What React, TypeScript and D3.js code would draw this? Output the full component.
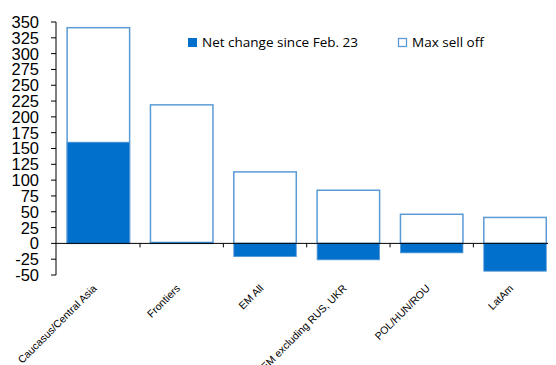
import React from "react";
import * as d3 from "d3";

const categories = ["Caucasus/Central Asia", "Frontiers", "EM All", "EM excluding RUS, UKR", "POL/HUN/ROU", "LatAm"];
const maxSellOff = [341, 219, 113, 84, 46, 41];
const netChange = [160, 2, -21, -26, -15, -44];
const yTicks = [-50, -25, 0, 25, 50, 75, 100, 125, 150, 175, 200, 225, 250, 275, 300, 325, 350];
const legendLabels = ["Net change since Feb. 23", "Max sell off"];

const W = 556, H = 365;
const FILL = "#0070cc";
const OUTLINE = "#5b9bd5";

export default function App() {
  const x = d3.scaleBand<string>().domain(categories).range([56.7, 556.7]).paddingInner(0.25).paddingOuter(0.125);
  const y = d3.scaleLinear().domain([-50, 350]).range([275, 22]);
  const bw = x.bandwidth();
  const boundaries = categories.slice(1).map((c) => (x(c) as number) - (x.step() - bw) / 2);
  return (
    <svg width={W} height={H} style={{ position: "absolute", left: 0, top: 0 }}>
      <rect width={W} height={H} fill="#fff" />
      {categories.map((c, i) => (
        <rect key={"m" + i} x={x(c)} y={y(maxSellOff[i])} width={bw} height={y(0) - y(maxSellOff[i])}
          fill="#fff" stroke={OUTLINE} strokeWidth={1.5} />
      ))}
      {categories.map((c, i) => (
        <rect key={"n" + i} x={x(c)} y={y(Math.max(0, netChange[i]))} width={bw}
          height={Math.abs(y(netChange[i]) - y(0))} fill={FILL} stroke={OUTLINE} strokeWidth={0.8} />
      ))}
      {/* y axis */}
      <line x1={56} x2={56} y1={y(350)} y2={y(-50)} stroke="#000" strokeWidth={1} />
      {yTicks.map((t) => (
        <g key={t}>
          <line x1={51} x2={56} y1={y(t)} y2={y(t)} stroke="#000" />
          <text x={39} y={y(t)} dy="0.36em" textAnchor="end" fontFamily="Liberation Sans, Arial" fontSize={16.5} fill="#000">{t}</text>
        </g>
      ))}
      {/* x axis */}
      <line x1={56} x2={548} y1={y(0)} y2={y(0)} stroke="#000" strokeWidth={1} />
      {boundaries.map((b, i) => (
        <line key={i} x1={b} x2={b} y1={y(0)} y2={y(0) + 4} stroke="#000" />
      ))}
      {categories.map((c) => {
        const cx = (x(c) as number) + bw / 2 - 1;
        const cy = 289;
        return (
          <text key={c} transform={`translate(${cx},${cy}) rotate(-45)`} textAnchor="end"
            fontFamily="Liberation Sans, Arial" fontSize={10.5} fill="#000">{c}</text>
        );
      })}
      {/* legend */}
      <rect x={188} y={38} width={9} height={9} fill={FILL} />
      <text x={202} y={47} fontFamily="Open Sans" fontSize={13.5} fill="#000">{legendLabels[0]}</text>
      <rect x={398.5} y={38.5} width={8} height={8} fill="#fff" stroke={OUTLINE} strokeWidth={1.3} />
      <text x={412} y={47} fontFamily="Open Sans" fontSize={13.5} fill="#000">{legendLabels[1]}</text>
    </svg>
  );
}
